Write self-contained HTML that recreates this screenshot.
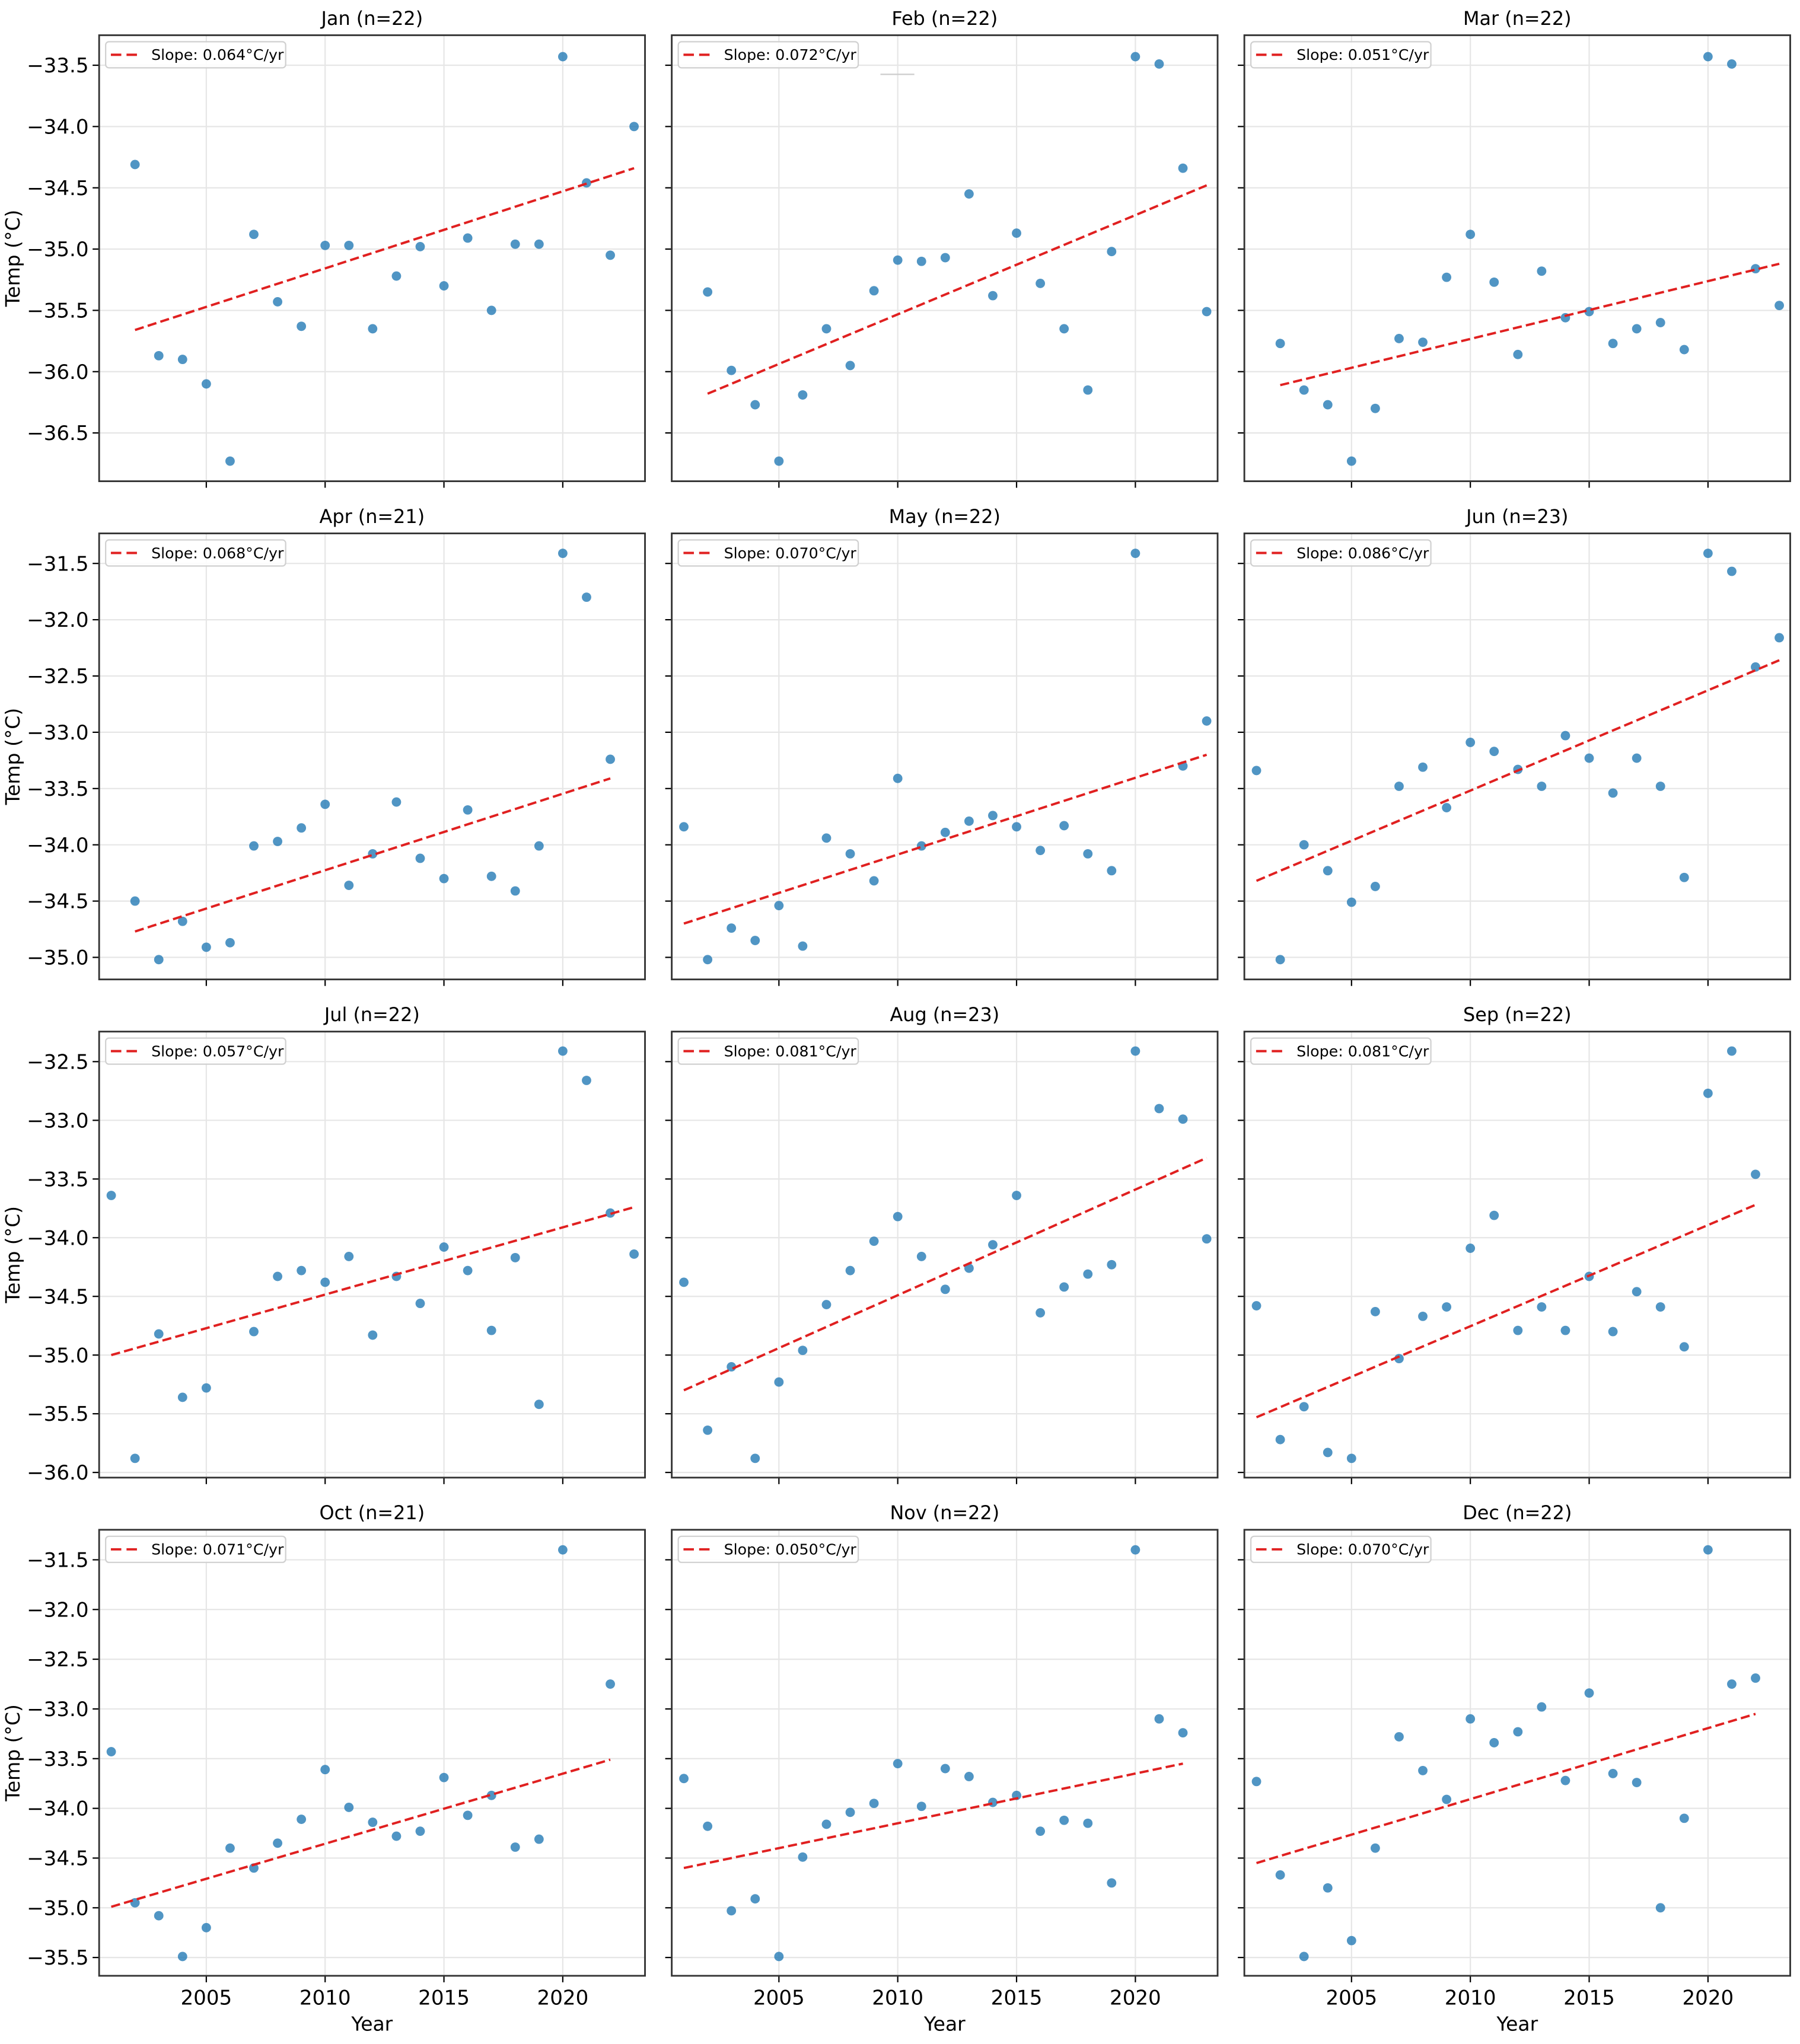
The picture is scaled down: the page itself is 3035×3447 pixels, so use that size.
<!DOCTYPE html>
<html><head><meta charset="utf-8"><style>
html,body{margin:0;padding:0;background:#fff;}
svg{display:block;}
text{font-family:"DejaVu Sans","Liberation Sans",sans-serif;fill:#000;}
</style></head><body>
<svg id="chart" xmlns="http://www.w3.org/2000/svg" width="3035" height="3447" viewBox="0 0 1380 1567.3" preserveAspectRatio="none"></svg>
<script>
const months = ["Jan","Feb","Mar","Apr","May","Jun","Jul","Aug","Sep","Oct","Nov","Dec"];
const slopeLabels = ["0.064","0.072","0.051","0.068","0.070","0.086","0.057","0.081","0.081","0.071","0.050","0.070"];
const trendStart = [-35.66,-36.18,-36.11,-34.77,-34.70,-34.32,-35.00,-35.30,-35.53,-34.99,-34.60,-34.55];
const trendEnd = [-34.34,-34.48,-35.12,-33.41,-33.20,-32.36,-33.74,-33.32,-33.72,-33.51,-33.55,-33.05];
const yrsJan = [2002,2003,2004,2005,2006,2007,2008,2009,2010,2011,2012,2013,2014,2015,2016,2017,2018,2019,2020,2021,2022,2023];
const valJan = [-34.31,-35.87,-35.90,-36.10,-36.73,-34.88,-35.43,-35.63,-34.97,-34.97,-35.65,-35.22,-34.98,-35.30,-34.91,-35.50,-34.96,-34.96,-33.43,-34.46,-35.05,-34.00];
const yrsFeb = [2002,2003,2004,2005,2006,2007,2008,2009,2010,2011,2012,2013,2014,2015,2016,2017,2018,2019,2020,2021,2022,2023];
const valFeb = [-35.35,-35.99,-36.27,-36.73,-36.19,-35.65,-35.95,-35.34,-35.09,-35.10,-35.07,-34.55,-35.38,-34.87,-35.28,-35.65,-36.15,-35.02,-33.43,-33.49,-34.34,-35.51];
const yrsMar = [2002,2003,2004,2005,2006,2007,2008,2009,2010,2011,2012,2013,2014,2015,2016,2017,2018,2019,2020,2021,2022,2023];
const valMar = [-35.77,-36.15,-36.27,-36.73,-36.30,-35.73,-35.76,-35.23,-34.88,-35.27,-35.86,-35.18,-35.56,-35.51,-35.77,-35.65,-35.60,-35.82,-33.43,-33.49,-35.16,-35.46];
const yrsApr = [2002,2003,2004,2005,2006,2007,2008,2009,2010,2011,2012,2013,2014,2015,2016,2017,2018,2019,2020,2021,2022];
const valApr = [-34.50,-35.02,-34.68,-34.91,-34.87,-34.01,-33.97,-33.85,-33.64,-34.36,-34.08,-33.62,-34.12,-34.30,-33.69,-34.28,-34.41,-34.01,-31.41,-31.80,-33.24];
const yrsMay = [2001,2002,2003,2004,2005,2006,2007,2008,2009,2010,2011,2012,2013,2014,2015,2016,2017,2018,2019,2020,2022,2023];
const valMay = [-33.84,-35.02,-34.74,-34.85,-34.54,-34.90,-33.94,-34.08,-34.32,-33.41,-34.01,-33.89,-33.79,-33.74,-33.84,-34.05,-33.83,-34.08,-34.23,-31.41,-33.30,-32.90];
const yrsJun = [2001,2002,2003,2004,2005,2006,2007,2008,2009,2010,2011,2012,2013,2014,2015,2016,2017,2018,2019,2020,2021,2022,2023];
const valJun = [-33.34,-35.02,-34.00,-34.23,-34.51,-34.37,-33.48,-33.31,-33.67,-33.09,-33.17,-33.33,-33.48,-33.03,-33.23,-33.54,-33.23,-33.48,-34.29,-31.41,-31.57,-32.42,-32.16];
const yrsJul = [2001,2002,2003,2004,2005,2007,2008,2009,2010,2011,2012,2013,2014,2015,2016,2017,2018,2019,2020,2021,2022,2023];
const valJul = [-33.64,-35.88,-34.82,-35.36,-35.28,-34.80,-34.33,-34.28,-34.38,-34.16,-34.83,-34.33,-34.56,-34.08,-34.28,-34.79,-34.17,-35.42,-32.41,-32.66,-33.79,-34.14];
const yrsAug = [2001,2002,2003,2004,2005,2006,2007,2008,2009,2010,2011,2012,2013,2014,2015,2016,2017,2018,2019,2020,2021,2022,2023];
const valAug = [-34.38,-35.64,-35.10,-35.88,-35.23,-34.96,-34.57,-34.28,-34.03,-33.82,-34.16,-34.44,-34.26,-34.06,-33.64,-34.64,-34.42,-34.31,-34.23,-32.41,-32.90,-32.99,-34.01];
const yrsSep = [2001,2002,2003,2004,2005,2006,2007,2008,2009,2010,2011,2012,2013,2014,2015,2016,2017,2018,2019,2020,2021,2022];
const valSep = [-34.58,-35.72,-35.44,-35.83,-35.88,-34.63,-35.03,-34.67,-34.59,-34.09,-33.81,-34.79,-34.59,-34.79,-34.33,-34.80,-34.46,-34.59,-34.93,-32.77,-32.41,-33.46];
const yrsOct = [2001,2002,2003,2004,2005,2006,2007,2008,2009,2010,2011,2012,2013,2014,2015,2016,2017,2018,2019,2020,2022];
const valOct = [-33.43,-34.95,-35.08,-35.49,-35.20,-34.40,-34.60,-34.35,-34.11,-33.61,-33.99,-34.14,-34.28,-34.23,-33.69,-34.07,-33.87,-34.39,-34.31,-31.40,-32.75];
const yrsNov = [2001,2002,2003,2004,2005,2006,2007,2008,2009,2010,2011,2012,2013,2014,2015,2016,2017,2018,2019,2020,2021,2022];
const valNov = [-33.70,-34.18,-35.03,-34.91,-35.49,-34.49,-34.16,-34.04,-33.95,-33.55,-33.98,-33.60,-33.68,-33.94,-33.87,-34.23,-34.12,-34.15,-34.75,-31.40,-33.10,-33.24];
const yrsDec = [2001,2002,2003,2004,2005,2006,2007,2008,2009,2010,2011,2012,2013,2014,2015,2016,2017,2018,2019,2020,2021,2022];
const valDec = [-33.73,-34.67,-35.49,-34.80,-35.33,-34.40,-33.28,-33.62,-33.91,-33.10,-33.34,-33.23,-32.98,-33.72,-32.84,-33.65,-33.74,-35.00,-34.10,-31.40,-32.75,-32.69];
const xTicks = [2005,2010,2015,2020];
const yTicksRow = [
  [-33.5,-34.0,-34.5,-35.0,-35.5,-36.0,-36.5],
  [-31.5,-32.0,-32.5,-33.0,-33.5,-34.0,-34.5,-35.0],
  [-32.5,-33.0,-33.5,-34.0,-34.5,-35.0,-35.5,-36.0],
  [-31.5,-32.0,-32.5,-33.0,-33.5,-34.0,-34.5,-35.0,-35.5]
];
const yLimRow = [[-36.894,-33.255],[-35.196,-31.233],[-36.044,-32.244],[-35.684,-31.198]];
const xLim = [2000.49,2023.46];

const allYrs=[yrsJan,yrsFeb,yrsMar,yrsApr,yrsMay,yrsJun,yrsJul,yrsAug,yrsSep,yrsOct,yrsNov,yrsDec];
const allVal=[valJan,valFeb,valMar,valApr,valMay,valJun,valJul,valAug,valSep,valOct,valNov,valDec];
const NS="http://www.w3.org/2000/svg";
const svg=document.getElementById('chart');
function mk(tag,attrs,parent){const e=document.createElementNS(NS,tag);for(const k in attrs)e.setAttribute(k,attrs[k]);(parent||svg).appendChild(e);return e;}
const colX=[76,515,954], rowY=[27,409,791,1173], W=418.5, H=342;
const fmt=v=>(v<0?"\u2212":"")+Math.abs(v).toFixed(1);
for(let m=0;m<12;m++){
  const r=Math.floor(m/3), c=m%3, L=colX[c], T=rowY[r];
  const g=mk('g',{});
  
  
  const yl=yLimRow[r];
  const sx=v=>L+(v-xLim[0])/(xLim[1]-xLim[0])*W;
  const sy=v=>T+H-(v-yl[0])/(yl[1]-yl[0])*H;
  xTicks.forEach(t=>{const l=mk('line',{x1:sx(t),x2:sx(t),y1:T,y2:T+H,stroke:'#e6e6e6','stroke-width':1},g);
    
    
    const tk=mk('line',{x1:sx(t),x2:sx(t),y1:T+H,y2:T+H+5,stroke:'#000','stroke-width':1},g);
    
    
    if(r===3){const tx=mk('text',{x:sx(t),y:T+H+22,'font-size':15.5,'text-anchor':'middle'},g);tx.textContent=t;
      
      }
  });
  yTicksRow[r].forEach(t=>{const l=mk('line',{x1:L,x2:L+W,y1:sy(t),y2:sy(t),stroke:'#e6e6e6','stroke-width':1},g);
    
    
    const tk=mk('line',{x1:L-5,x2:L,y1:sy(t),y2:sy(t),stroke:'#000','stroke-width':1},g);
    
    
    if(c===0){const tx=mk('text',{x:L-8,y:sy(t)+5.5,'font-size':15.5,'text-anchor':'end'},g);tx.textContent=fmt(t);
      
      }
  });
  const ys=allYrs[m], vs=allVal[m], n=ys.length;
  ys.forEach((yr,i)=>{const p=mk('circle',{cx:sx(yr),cy:sy(vs[i]),r:3.6,fill:'#1f77b4','fill-opacity':0.78},g);
    
    });
  const x0=ys[0], x1=ys[n-1];
  const tl=mk('line',{x1:sx(x0),y1:sy(trendStart[m]),x2:sx(x1),y2:sy(trendEnd[m]),stroke:'#e02020','stroke-width':1.8,'stroke-dasharray':'7,3.2'},g);
  
  
  const fr=mk('rect',{x:L,y:T,width:W,height:H,fill:'none',stroke:'#333','stroke-width':1.3},g);
  
  
  const lg=mk('g',{},g);
  
  
  mk('rect',{x:L+5,y:T+5,width:138,height:20,rx:2.5,fill:'#fff','fill-opacity':0.85,stroke:'#d0d0d0','stroke-width':1},lg);
  mk('line',{x1:L+9,x2:L+31,y1:T+15,y2:T+15,stroke:'#e02020','stroke-width':1.8,'stroke-dasharray':'8,4'},lg);
  const lt=mk('text',{x:L+40,y:T+19,'font-size':11.5},lg);lt.textContent='Slope: '+slopeLabels[m]+'\u00B0C/yr';
  
  
  const ti=mk('text',{x:L+W/2,y:T-8,'font-size':14.5,'text-anchor':'middle'},g);ti.textContent=months[m]+' (n='+n+')';
  
  
  if(c===0){const yl2=mk('text',{x:0,y:0,'font-size':15,'text-anchor':'middle',transform:'translate(15,'+(T+H/2)+') rotate(-90)'},g);yl2.textContent='Temp (\u00B0C)';
    
    }
  if(r===3){const xl=mk('text',{x:L+W/2,y:T+H+42,'font-size':15,'text-anchor':'middle'},g);xl.textContent='Year';
    
    }
}
const art=mk('line',{x1:675,x2:701,y1:57,y2:57,stroke:'#cccccc','stroke-width':1});


</script>
</body></html>
